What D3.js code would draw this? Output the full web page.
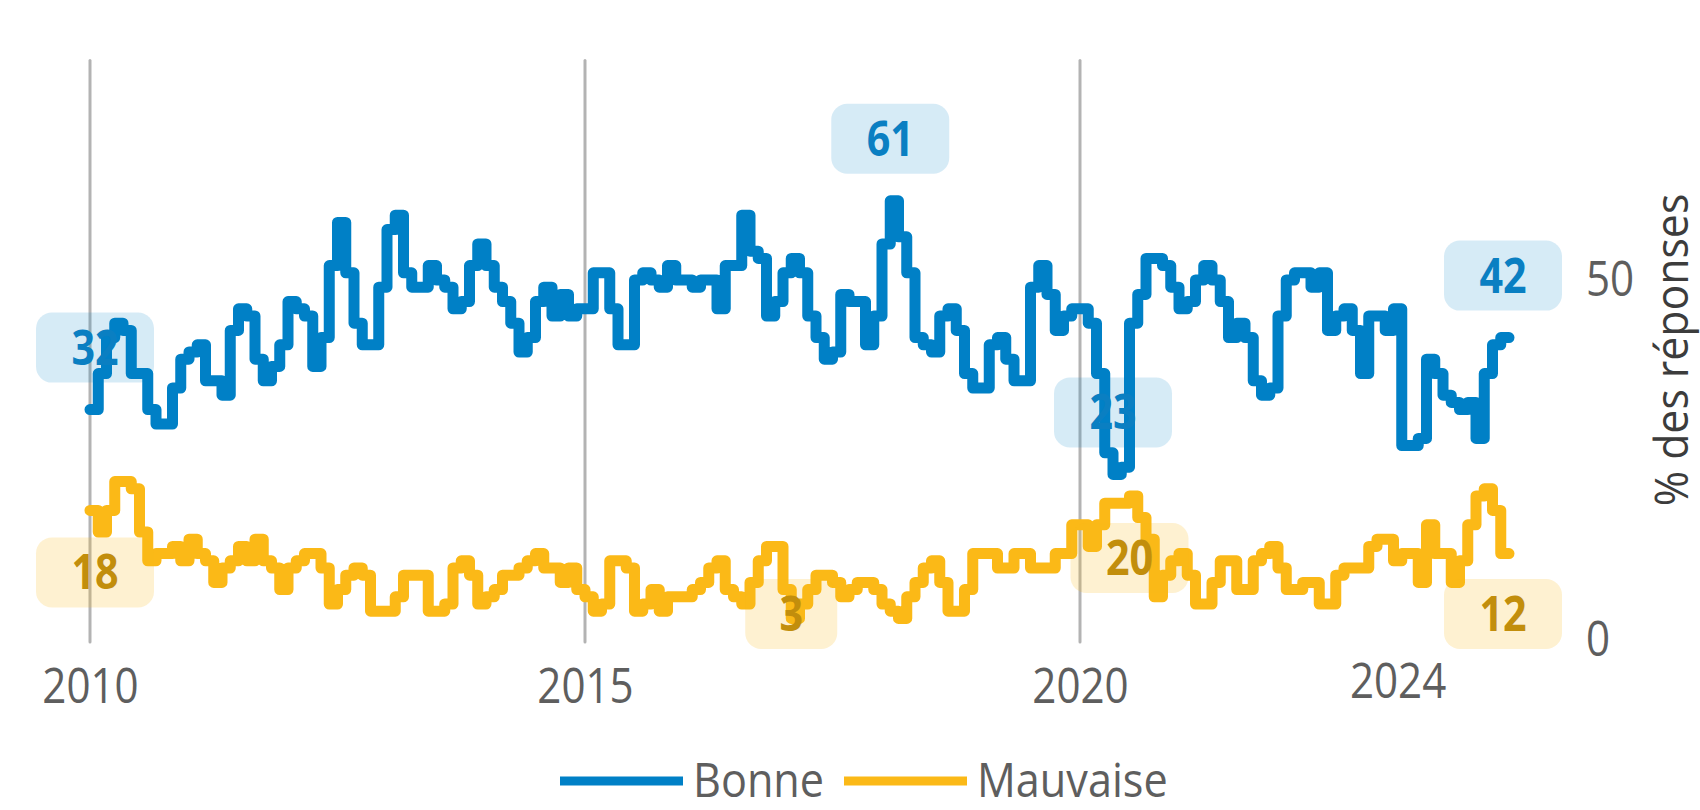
<!DOCTYPE html>
<html>
<head>
<meta charset="utf-8">
<script src="https://cdn.jsdelivr.net/npm/d3@7"></script>
<style>
  body { margin: 0; background: #fff; }
  svg { display: block; font-family: "Open Sans", "Noto Sans", sans-serif; }
</style>
</head>
<body>
<div id="chart"></div>
<script>
// monthly values, starting January 2010 (index 0)
const bonne = [
  32, 37, 42, 44, 43, 37, 37, 32, 30, 30,
  35, 39, 40, 41, 36, 36, 34, 43, 46, 45,
  39, 36, 38, 41, 47, 46, 45, 38, 42, 52,
  58, 51, 44, 41, 41, 49, 57, 59, 51, 49,
  49, 52, 50, 49, 46, 47, 52, 55, 52, 49,
  47, 44, 40, 42, 47, 49, 45, 48, 45, 46,
  46, 51, 51, 46, 41, 41, 50, 51, 50, 49,
  52, 50, 50, 49, 50, 50, 46, 52, 52, 59,
  54, 53, 45, 47, 51, 53, 51, 45, 42, 39,
  40, 48, 47, 47, 41, 45, 55, 61, 56, 51,
  42, 41, 40, 45, 46, 43, 37, 35, 35, 41,
  42, 39, 36, 36, 49, 52, 48, 43, 45, 46,
  46, 44, 37, 26, 23, 24, 44, 48, 53, 53,
  52, 49, 46, 47, 50, 52, 50, 47, 42, 44,
  42, 36, 34, 35, 45, 50, 51, 51, 49, 51,
  43, 45, 46, 43, 37, 45, 45, 43, 46, 27,
  27, 28, 39, 37, 34, 33, 32, 33, 28, 37,
  41, 42, 42
];
const mauvaise = [
  18, 15, 18, 22, 22, 21, 15, 11, 12, 12,
  13, 11, 14, 12, 11, 8, 10, 11, 13, 11,
  14, 11, 10, 7, 10, 11, 12, 12, 10, 5,
  7, 9, 10, 9, 4, 4, 4, 6, 9, 9,
  9, 4, 4, 5, 10, 11, 9, 5, 6, 7,
  9, 9, 10, 11, 12, 10, 10, 8, 10, 7,
  6, 4, 5, 11, 11, 10, 4, 5, 7, 4,
  6, 6, 6, 7, 8, 10, 11, 7, 6, 5,
  8, 11, 13, 13, 7, 3, 5, 7, 9, 9,
  8, 6, 7, 8, 8, 7, 5, 4, 3, 6,
  8, 10, 11, 8, 4, 4, 7, 12, 12, 12,
  10, 10, 12, 12, 10, 10, 10, 12, 12, 16,
  16, 13, 16, 19, 19, 19, 20, 17, 14, 6,
  9, 11, 12, 9, 5, 5, 8, 11, 11, 7,
  7, 11, 12, 13, 10, 7, 7, 8, 8, 5,
  5, 9, 10, 10, 10, 13, 14, 14, 11, 12,
  12, 8, 16, 12, 12, 8, 11, 16, 20, 21,
  18, 12, 12
];

const seriesNames = ["Bonne", "Mauvaise"];
const colors = ["#0080c6", "#fbb917"];
const labelColors = ["#0a7fc2", "#c28e0c"];

// x tick labels (month index -> label)
const yearTicks = [0, 60, 120];
const yearLabels = ["2010", "2015", "2020"];
const extraTick = 158.5, extraLabel = "2024";
const yTicks = [0, 50];
const yTitle = "% des réponses";

// months that get a value badge
const bonneLabelIdx = [0, 97, 124, 172];
const mauvaiseLabelIdx = [0, 85, 126, 172];

const width = 1700, height = 810;
const svg = d3.select("#chart").append("svg")
  .attr("width", width).attr("height", height);

const x = d3.scaleLinear().domain([0, bonne.length - 1]).range([90, 1509]);
const y = d3.scaleLinear().domain([0, 50]).range([640, 280]);

// the original font is narrower than Open Sans, squeeze horizontally
function squeeze(sel, k = 0.86) {
  sel.attr("transform", function () {
    const x0 = +this.getAttribute("x") || 0;
    return `translate(${x0},0) scale(${k},1) translate(${-x0},0)`;
  });
}

// vertical gridlines
svg.append("g").selectAll("line")
  .data(yearTicks)
  .join("line")
  .attr("x1", d => x(d)).attr("x2", d => x(d))
  .attr("y1", y(80.5)).attr("y2", y(0) + 2)
  .attr("stroke", "#b3b3b3")
  .attr("stroke-width", 3)
  .attr("stroke-linecap", "round");

// bottom axis (labels only)
const xAxis = svg.append("g")
  .attr("transform", `translate(0,${y(0)})`)
  .call(d3.axisBottom(x)
    .tickValues(yearTicks.concat([extraTick]))
    .tickFormat(d => d === extraTick ? extraLabel : yearLabels[yearTicks.indexOf(d)])
    .tickSize(0).tickPadding(28));
xAxis.select(".domain").remove();
xAxis.selectAll("text")
  .attr("font-family", "Open Sans")
  .attr("font-size", 49)
  .attr("fill", "#5e5e5e")
  .attr("y", d => d === extraTick ? 23 : 28)
  .call(squeeze);

// right axis
const yAxis = svg.append("g")
  .attr("transform", "translate(1586,0)")
  .call(d3.axisRight(y).tickValues(yTicks).tickSize(0).tickPadding(0));
yAxis.select(".domain").remove();
yAxis.selectAll("text")
  .attr("font-family", "Open Sans")
  .attr("font-size", 49)
  .attr("fill", "#5e5e5e")
  .call(squeeze);

svg.append("text")
  .attr("transform", "translate(1688,350) rotate(-90) scale(0.93,1)")
  .attr("text-anchor", "middle")
  .attr("font-size", 46)
  .attr("fill", "#3c3c3c")
  .text(yTitle);

// step lines
const line = d3.line()
  .x((d, i) => x(i))
  .y(d => y(d))
  .curve(d3.curveStepAfter);

[bonne, mauvaise].forEach((s, k) => {
  svg.append("path")
    .datum(s)
    .attr("d", line)
    .attr("fill", "none")
    .attr("stroke", colors[k])
    .attr("stroke-width", 11)
    .attr("stroke-linejoin", "round")
    .attr("stroke-linecap", "round");
});

// value badges (drawn above the lines, translucent)
function badges(series, idx, k) {
  const g = svg.append("g");
  idx.forEach(i => {
    const v = series[i];
    const txt = d3.format(".0f")(v);
    const w = 66 + 26 * txt.length, h = 70;
    let cy = k === 0 ? y(v) - 62 : Math.min(y(v) + 62, 614);
    let cx = Math.max(36 + w / 2, Math.min(1562 - w / 2, x(i)));
    g.append("rect")
      .attr("x", cx - w / 2).attr("y", cy - h / 2)
      .attr("width", w).attr("height", h)
      .attr("rx", 16)
      .attr("fill", colors[k])
      .attr("fill-opacity", k === 0 ? 0.16 : 0.2);
    g.append("text")
      .attr("x", cx).attr("y", cy + 17)
      .attr("text-anchor", "middle")
      .attr("font-size", 48)
      .attr("font-weight", 700)
      .attr("fill", labelColors[k])
      .text(txt)
      .call(squeeze);
  });
}
badges(bonne, bonneLabelIdx, 0);
badges(mauvaise, mauvaiseLabelIdx, 1);

// legend
const legend = svg.append("g");
const legendX = [560, 844];
seriesNames.forEach((name, k) => {
  legend.append("line")
    .attr("x1", legendX[k]).attr("x2", legendX[k] + 123)
    .attr("y1", 781).attr("y2", 781)
    .attr("stroke", colors[k])
    .attr("stroke-width", 9);
  legend.append("text")
    .attr("x", legendX[k] + 133).attr("y", 797)
    .attr("font-size", 48)
    .attr("fill", "#5e5e5e")
    .text(name)
    .call(squeeze, 0.9);
});
</script>
</body>
</html>
